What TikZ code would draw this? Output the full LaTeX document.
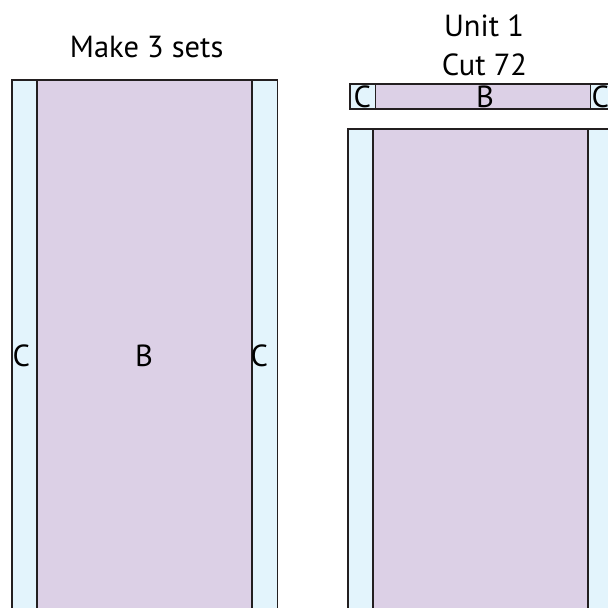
\documentclass[tikz,border=0pt]{standalone}
\usepackage{fontspec}
\setmainfont{PT Sans}
\definecolor{cblue}{HTML}{E3F4FC}
\definecolor{bpurple}{HTML}{DCD0E6}
\definecolor{edge}{HTML}{231F20}
\begin{document}
\begin{tikzpicture}[x=1pt,y=-1pt,
  cpiece/.style={fill=cblue,draw=edge,line width=1.6pt},
  bpiece/.style={fill=bpurple,draw=edge,line width=1.6pt},
  thin piece/.style={line width=1.1pt},
  lbl/.style={inner sep=0pt,anchor=base,font=\fontsize{30.5}{36}\selectfont},
  lblw/.style={inner sep=0pt,anchor=base west,font=\fontsize{30.5}{36}\selectfont}]
\useasboundingbox (0,0) rectangle (608,608);
\clip (0,0) rectangle (608,608);
\fill[white] (0,0) rectangle (608,608);
% left set
\path[cpiece] (11.7,80) rectangle (36.7,640);
\path[bpiece] (36.7,80) rectangle (251.7,640);
\path[cpiece] (251.7,80) rectangle (277.3,640);
% right small strip
\path[cpiece,thin piece] (350,84) rectangle (375.3,109);
\path[bpiece,thin piece] (375.3,84) rectangle (590.3,109);
\path[cpiece,thin piece] (590.3,84) rectangle (615.6,109);
% right big strip
\path[cpiece] (347.7,129) rectangle (373,690);
\path[bpiece] (373,129) rectangle (587.7,690);
\path[cpiece] (587.7,129) rectangle (613,690);
% texts
\node[lbl] (make) at (146.7,57) {Make 3 sets};
\node[lbl] (unit) at (484,36) {Unit 1};
\node[lbl] (cut) at (484.5,75) {Cut 72};
\node[lblw] (cl) at (12.5,366) {C};
\node[lbl] (bl) at (144,366) {B};
\node[lblw] (cr) at (250.5,366) {C};
\node[lblw] (cs1) at (353.5,107) {C};
\node[lbl] (bs) at (485,107) {B};
\node[lblw] (cs2) at (591.5,107) {C};
\end{tikzpicture}
\end{document}
